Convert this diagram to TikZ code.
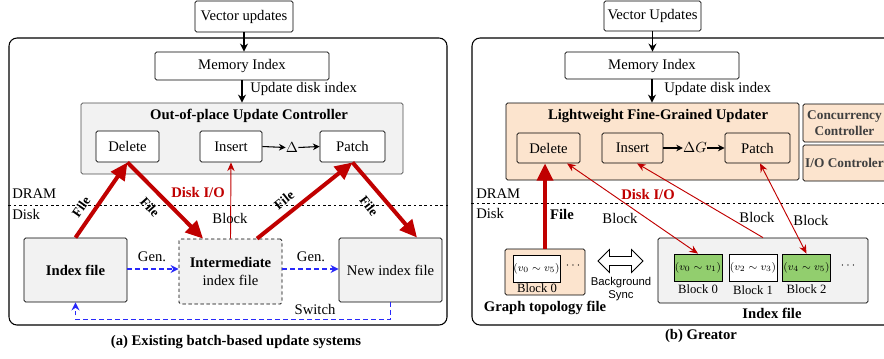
\documentclass[tikz,border=0pt]{standalone}
\usepackage{fontspec}
\setmainfont{Liberation Serif}
\setsansfont{Liberation Sans}
\usetikzlibrary{arrows.meta,shapes.arrows}
\definecolor{myred}{RGB}{192,0,0}
\definecolor{myblue}{RGB}{40,40,250}
\definecolor{peach}{RGB}{252,228,206}
\definecolor{lgray}{RGB}{242,242,242}
\definecolor{mygreen}{RGB}{146,206,110}
\tikzset{
  sz/.style 2 args={minimum width=#1*0.75pt, minimum height=#2*0.75pt},
  box/.style={draw, line width=0.6pt, rounded corners=1.2pt, inner sep=0pt, font=\fontsize{11}{13}\selectfont, align=center},
  txt/.style={inner sep=0pt, font=\fontsize{11}{13}\selectfont},
  small/.style={inner sep=0pt, font=\fontsize{9.5}{11}\selectfont},
  blk/.style={draw, line width=0.6pt, inner sep=0pt, font=\fontsize{8}{9}\selectfont, minimum width=36pt, minimum height=20.25pt},
  bold/.style={inner sep=0pt, font=\fontsize{11}{13}\selectfont\bfseries},
  blackarr/.style={line width=1pt, -{Stealth[length=6pt,width=6pt]}},
  filearr/.style={myred, line width=3pt, -{Triangle[length=13pt,width=12pt]}},
  thinred/.style={myred, line width=0.7pt, -{Stealth[length=6.5pt,width=5.5pt]}},
  thinred2/.style={myred, line width=0.7pt, {Stealth[length=6.5pt,width=5.5pt]}-{Stealth[length=6.5pt,width=5.5pt]}},
  genarr/.style={myblue, line width=1pt, dashed, dash pattern=on 3.5pt off 2.5pt, -{Stealth[length=6pt,width=6pt]}},
  filelbl/.style={inner sep=0pt, font=\fontsize{10}{12}\selectfont\bfseries},
  ctlbox/.style={draw, line width=0.6pt, rounded corners=1.2pt, fill=peach, inner sep=0pt, align=center, text=black!75, font=\fontsize{10}{11.5}\selectfont\bfseries},
}
\begin{document}
\begin{tikzpicture}[x=0.75pt,y=-0.75pt]
\useasboundingbox (0,0) rectangle (884,358);
\begin{scope}
\clip (0,0) rectangle (884,358);
% ================= Panel (a) =================
\node[draw, line width=0.8pt, rounded corners=6pt, sz={438}{287}, inner sep=0pt] (outer1) at (228,181.5) {};
\node[box, sz={98}{31}, fill=white] (vu1) at (244,16.5) {Vector updates};
\node[box, sz={174}{28}] (mem1) at (242,66) {Memory Index};
\node[box, sz={322}{71}, fill=lgray, draw=black!70] (ctrl1) at (242,138.5) {};
\node[bold] (t1) at (249,116) {Out-of-place Update Controller};
\node[box, sz={63}{31}, fill=white] (del1) at (127.5,146.5) {Delete};
\node[box, sz={62}{31}, fill=white] (ins1) at (231,146.5) {Insert};
\node[txt] (delta1) at (292,147.5) {$\Delta$};
\node[box, sz={65}{31}, fill=white] (pat1) at (352.5,146.5) {Patch};
\draw[blackarr] (vu1.south) -- (vu1.south |- mem1.north);
\draw[blackarr] (mem1.south) -- (ctrl1.north);
\node[txt, anchor=west] (ud1) at (250,89) {Update disk index};
\draw[line width=0.8pt, -{Stealth[length=5pt,width=5pt]}] (ins1.east) -- (delta1.west);
\draw[line width=0.8pt, -{Stealth[length=5pt,width=5pt]}] (delta1.east) -- (pat1.west);
% DRAM / Disk
\node[txt, anchor=west] (dram1) at (12,194) {DRAM};
\node[txt, anchor=west] (disk1) at (12,214) {Disk};
\draw[dashed, dash pattern=on 2pt off 2pt, line width=0.5pt] (outer1.west |- 0,205) coordinate (dl1) -- (outer1.east |- 0,205) coordinate (dr1);
% Disk boxes
\node[box, sz={103}{64}, fill=lgray, font=\fontsize{11}{13}\selectfont\bfseries] (idx1) at (75.5,270) {Index file};
\node[box, sz={103}{65}, fill=lgray, dashed, dash pattern=on 2.5pt off 2pt] (int1) at (230.5,271.5) {\textbf{Intermediate}\\index file};
\node[box, sz={103}{64}, fill=lgray] (new1) at (390.5,270) {New index file};
% Gen arrows
\draw[genarr] (idx1.east |- 0,269) -- (int1.west |- 0,269);
\draw[genarr] (int1.east |- 0,269) -- (new1.west |- 0,269);
\node[txt] (g1) at (152,257) {Gen.};
\node[txt] (g2) at (311,257) {Gen.};
\draw[genarr] (new1.south) -- ++(0,17) -| (idx1.south);
\node[txt] (sw1) at (315,309) {Switch};
% File arrows
\draw[filearr] (idx1.north) -- (del1.south);
\draw[filearr] (del1.south) -- ([xshift=-20.6pt]int1.north);
\draw[filearr] ([xshift=19.9pt]int1.north) -- (pat1.south);
\draw[filearr] (pat1.south) -- ([xshift=19.9pt]new1.north);
\node[filelbl, rotate=55] (f1) at (81,207) {File};
\node[filelbl, rotate=-48] (f2) at (150,207) {File};
\node[filelbl, rotate=39] (f3) at (284,200) {File};
\node[filelbl, rotate=-52] (f4) at (369,206) {File};
\draw[thinred] (int1.north) -- (ins1.south);
\node[txt, text=myred, font=\fontsize{11}{13}\selectfont\bfseries] (dio1) at (198,192) {Disk I/O};
\node[txt] (bl1) at (230,218) {Block};
\node[bold] (cap1) at (236,342) {(a) Existing batch-based update systems};

% ================= Panel (b) =================
\node[draw, line width=0.8pt, rounded corners=6pt, sz={428}{287}, inner sep=0pt] (outer2) at (686,181.5) {};
\node[box, sz={97}{30}, fill=white] (vu2) at (652.5,16) {Vector Updates};
\node[box, sz={174}{27}] (mem2) at (652,65.5) {Memory Index};
\node[box, sz={293}{77}, fill=peach] (upd2) at (652.5,141.5) {};
\node[bold] (t2) at (658,116) {Lightweight Fine-Grained Updater};
\node[box, sz={63}{30}, fill=peach] (del2) at (548.5,148) {Delete};
\node[box, sz={61}{30}, fill=peach] (ins2) at (632.5,148) {Insert};
\node[txt] (dg2) at (695,148) {$\Delta G$};
\node[box, sz={65}{30}, fill=peach] (pat2) at (757.5,148) {Patch};
\draw[blackarr] (vu2.south) -- (vu2.south |- mem2.north);
\draw[blackarr] (mem2.south) -- (mem2.south |- upd2.north);
\node[txt, anchor=west] (ud2) at (664,89) {Update disk index};
\draw[line width=0.8pt, -{Stealth[length=5pt,width=5pt]}] (ins2.east) -- (dg2.west);
\draw[line width=0.8pt, -{Stealth[length=5pt,width=5pt]}] (dg2.east) -- (pat2.west);
\node[ctlbox, sz={83}{38}] (cc) at (844.5,123) {Concurrency\\Controller};
\node[ctlbox, sz={83}{36}] (ioc) at (844.5,163) {I/O Controler};
% DRAM / Disk
\node[txt, anchor=west] (dram2) at (476,194) {DRAM};
\node[txt, anchor=west] (disk2) at (476,213) {Disk};
\draw[dashed, dash pattern=on 2pt off 2pt, line width=0.5pt] (outer2.west |- 0,203) coordinate (dl2) -- (884,203) coordinate (dr2);
% Graph topology file
\node[box, sz={80}{46}, fill=peach] (gt) at (545,272) {};
\node[draw, line width=0.6pt, fill=white, sz={47}{27}, inner sep=0pt, font=\fontsize{8}{9}\selectfont] (gtb) at (536.5,268.5) {$(v_0\sim v_5)$};
\node[inner sep=0pt, font=\bfseries\fontsize{9}{10}\selectfont] (gtd) at (573,266) {$\cdots$};
\node[small] (gtbl) at (537,288) {Block 0};
\node[bold] (gtl) at (545,308) {Graph topology file};
% Background sync
\node[draw, line width=0.6pt, double arrow, double arrow head extend=3.5pt, minimum height=45*0.75pt, minimum width=23*0.75pt, inner sep=2pt, fill=white] (sync) at (620.5,261) {};
\node[inner sep=0pt, font=\sffamily\fontsize{8.5}{10}\selectfont, align=center] (synct) at (621,289) {Background\\Sync};
% Index file
\node[box, sz={210}{65}, fill=lgray] (ix) at (763,270.5) {};
\node[blk, fill=mygreen] (b0) at (698,267.5) {$(v_0\sim v_1)$};
\node[blk, fill=white] (b1) at (753,267.5) {$(v_2\sim v_3)$};
\node[blk, fill=mygreen] (b2) at (806.5,267.5) {$(v_4\sim v_5)$};
\node[small] (b0l) at (698,289) {Block 0};
\node[small] (b1l) at (753,290) {Block 1};
\node[small] (b2l) at (806.5,289) {Block 2};
\node[inner sep=0pt, font=\bfseries\fontsize{9}{10}\selectfont] (ixd) at (848,266) {$\cdots$};
\node[bold] (ixl) at (772,313) {Index file};
% arrows
\draw[filearr] (gt.north) -- (gt.north |- del2.south);
\node[bold] (fl2) at (562,214) {File};
\node[txt, text=myred, font=\fontsize{11}{13}\selectfont\bfseries] (dio2) at (648,194) {Disk I/O};
\draw[thinred2] ([xshift=13.9pt]del2.south) -- (b0.north);
\draw[thinred] (ix.north) -- ([xshift=3.4pt]ins2.south);
\draw[thinred2] ([xshift=1.9pt]pat2.south) -- (b2.north);
\node[txt] (bl2a) at (620,218) {Block};
\node[txt] (bl2b) at (757,217) {Block};
\node[txt] (bl2c) at (811,220) {Block};
\node[bold] (cap2) at (701,336) {(b) Greator};
\end{scope}
\end{tikzpicture}
\end{document}
